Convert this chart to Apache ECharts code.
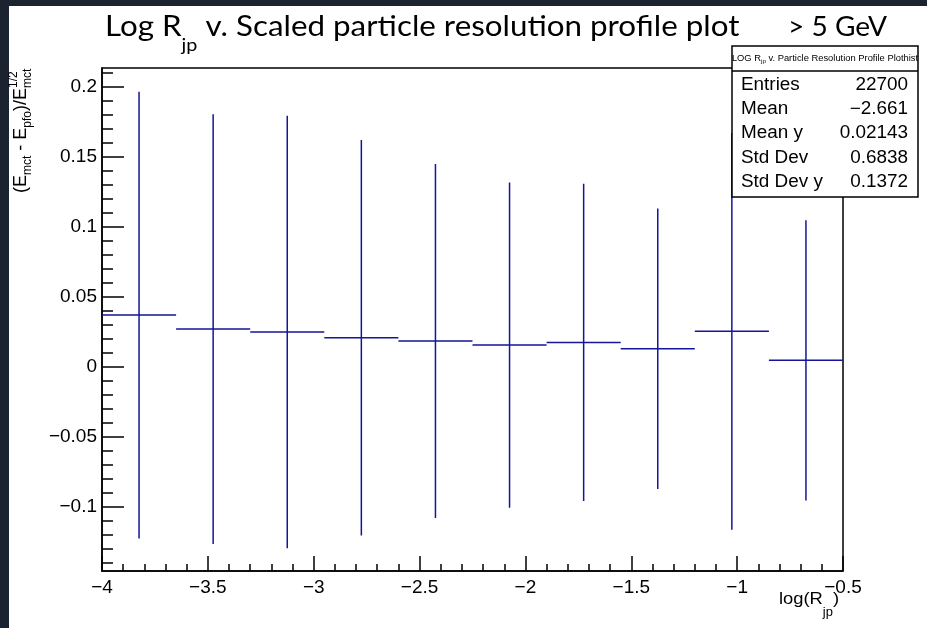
<!DOCTYPE html>
<html>
<head>
<meta charset="utf-8">
<script src="https://cdn.jsdelivr.net/npm/echarts@6/dist/echarts.min.js"></script>
<style>
    html, body {margin: 0; padding: 0; background: #fff;}
    #chart-profile-rjp {width: 927px; height: 628px;}
</style>
</head>
<body>
<div id="chart-profile-rjp"></div>
<script>
// profile bins (log R_jp), mean and spread of scaled resolution
const binCenters = [-3.825, -3.475, -3.125, -2.775, -2.425, -2.075, -1.725, -1.375, -1.025, -0.675];
const binMeans = [0.0369, 0.0269, 0.0248, 0.0207, 0.0184, 0.0155, 0.0174, 0.0129, 0.0253, 0.0046];
const binErrors = [0.1595, 0.1535, 0.1545, 0.1413, 0.1264, 0.1162, 0.1133, 0.1002, 0.1417, 0.1001];
const binWidth = 0.35;

const yLabelValues = [-0.1, -0.05, 0, 0.05, 0.1, 0.15, 0.2];
const statNames = ['Entries', 'Mean', 'Mean y', 'Std Dev', 'Std Dev y'];
const statValues = ['22700', '\u22122.661', '0.02143', '0.6838', '0.1372'];

let yMinorValues = [];
for (let i = -14; i <= 21; i++) yMinorValues.push(i / 100);

const markColor = '#15159a';
const axisFont = '"Liberation Sans", Arial, sans-serif';
const stretch = 1.08; // the original picture is a bit wider than tall

let measureCtx = document.createElement('canvas').getContext('2d');
function textWidth(text, size, family) {
    measureCtx.font = size + 'px ' + family;
    return measureCtx.measureText(text).width;
}

// lay text pieces out along a baseline (sub/superscripts via dy, fixed spots via x)
function textPieces(pieces, family, sx) {
    let out = [], cursor = 0;
    pieces.forEach(function (p) {
        if (p.x !== undefined) cursor = p.x;
        let s = p.sx || sx;
        out.push({
            type: 'text', z: 10, x: cursor, y: p.dy - 0.35 * p.size, scaleX: s,
            style: {
                x: 0, y: 0, text: p.t,
                font: p.size + 'px ' + family, fill: '#000',
                verticalAlign: 'middle', align: 'left'
            }
        });
        if (!p.stay) cursor += textWidth(p.t, p.size, family) * s;
    });
    return out;
}

function fmtTick(v) {
    return String(+Number(v).toFixed(2)).replace('-', '\u2212');
}

function renderErrorBar(params, api) {
    let c = api.value(0), m = api.value(1), e = api.value(2);
    let left = api.coord([c - binWidth / 2, m]);
    let right = api.coord([c + binWidth / 2, m]);
    let top = api.coord([c, m + e]);
    let bot = api.coord([c, m - e]);
    let st = {stroke: markColor, lineWidth: 1.5};
    return {
        type: 'group',
        children: [
            {type: 'line', shape: {x1: left[0], y1: left[1], x2: right[0], y2: right[1]}, style: st},
            {type: 'line', shape: {x1: top[0], y1: top[1], x2: bot[0], y2: bot[1]}, style: st}
        ]
    };
}

let statsChildren = [
    {type: 'rect', z: 100, shape: {x: 732, y: 46, width: 186, height: 151},
        style: {fill: '#fff', stroke: '#000', lineWidth: 1.5}},
    {type: 'line', z: 101, shape: {x1: 732, y1: 71, x2: 918, y2: 71}, style: {stroke: '#000', lineWidth: 1.5}},
    {type: 'text', z: 101, x: 825, y: 59, scaleX: 1.04, style: {x: 0, y: 0,
        text: 'LOG R{s|jp} v. Particle Resolution Profile Plothist',
        font: '9px ' + axisFont, fill: '#000', align: 'center', verticalAlign: 'middle',
        rich: {s: {fontSize: 6, fontFamily: axisFont, padding: [5, 0, 0, 0]}}}}
];
const statBaselines = [91.5, 115.5, 139.5, 164, 188];
statNames.forEach(function (name, i) {
    statsChildren.push({type: 'text', z: 101, x: 741, y: statBaselines[i] - 6.2, scaleX: stretch,
        style: {x: 0, y: 0, text: name, font: '17.5px ' + axisFont, fill: '#000', align: 'left', verticalAlign: 'middle'}});
    statsChildren.push({type: 'text', z: 101, x: 908, y: statBaselines[i] - 6.2, scaleX: stretch,
        style: {x: 0, y: 0, text: statValues[i], font: '17.5px ' + axisFont, fill: '#000', align: 'right', verticalAlign: 'middle'}});
});

let chartDom = document.getElementById('chart-profile-rjp');
let myChart = echarts.init(chartDom, null, {renderer: 'canvas'});
let option = {
    backgroundColor: '#fff',
    animation: false,
    grid: {left: 102, right: 84, top: 68, bottom: 57, show: true, borderColor: '#000', borderWidth: 1.5},
    xAxis: {
        type: 'value', min: -4, max: -0.5, interval: 0.5,
        axisLine: {onZero: false, lineStyle: {color: '#000', width: 1.5}},
        axisTick: {inside: true, length: 15, lineStyle: {color: '#000', width: 1.5}},
        minorTick: {show: true, splitNumber: 5, length: 7, lineStyle: {color: '#000', width: 1.5}},
        splitLine: {show: false},
        axisLabel: {fontFamily: axisFont, fontSize: 19, color: '#000', margin: 7,
            showMinLabel: true, showMaxLabel: true, formatter: fmtTick}
    },
    yAxis: [
        {
            type: 'value', min: -0.1459, max: 0.2134,
            axisLine: {show: true, onZero: false, lineStyle: {color: '#000', width: 1.5}},
            axisTick: {show: true, inside: true, length: 22, customValues: yLabelValues, lineStyle: {color: '#000', width: 1.5}},
            splitLine: {show: false},
            axisLabel: {fontFamily: axisFont, fontSize: 19, color: '#000', margin: 5,
                customValues: yLabelValues, formatter: fmtTick}
        },
        {
            type: 'value', min: -0.1459, max: 0.2134, position: 'left',
            axisLine: {show: false, onZero: false},
            axisTick: {show: true, inside: true, length: 11, customValues: yMinorValues, lineStyle: {color: '#000', width: 1.5}},
            splitLine: {show: false},
            axisLabel: {show: false}
        }
    ],
    series: [{
        type: 'custom',
        renderItem: renderErrorBar,
        data: binCenters.map(function (c, i) { return [c, binMeans[i], binErrors[i]]; }),
        z: 5
    }],
    graphic: [
        {type: 'rect', z: 0, shape: {x: 0, y: 0, width: 927, height: 6}, style: {fill: '#1b2230'}},
        {type: 'rect', z: 0, shape: {x: 0, y: 0, width: 9, height: 628}, style: {fill: '#1b2230'}},
        {type: 'group', x: 0, y: 37, children: textPieces([
            {t: 'Log R', size: 28.5, dy: 0, x: 105},
            {t: 'jp', size: 18, dy: 14},
            {t: ' v. Scaled particle resolution profile plot', size: 28.5, dy: 0}
        ], 'Lato', 1.1)},
        {type: 'group', x: 0, y: 37, children: textPieces([
            {t: '> 5 GeV', size: 27, dy: 0, x: 788}
        ], 'Lato', 1.04)},
        {type: 'group', x: 27, y: 193, rotation: Math.PI / 2, children: textPieces([
            {t: '(E', size: 18, dy: 0},
            {t: 'mct', size: 12, dy: 5},
            {t: ' - E', size: 18, dy: 0},
            {t: 'pfo', size: 12, dy: 5},
            {t: ')/E', size: 18, dy: 0},
            {t: '1/2', size: 12, dy: -9, stay: true},
            {t: 'mct', size: 12, dy: 5}
        ], axisFont, 1)},
        {type: 'group', x: 779, y: 605, children: textPieces([
            {t: 'log(R', size: 17, dy: 0},
            {t: 'jp', size: 12, dy: 12},
            {t: ')', size: 17, dy: 0}
        ], axisFont, stretch)},
        {type: 'group', children: statsChildren}
    ]
};
option && myChart.setOption(option);
</script>
</body>
</html>
